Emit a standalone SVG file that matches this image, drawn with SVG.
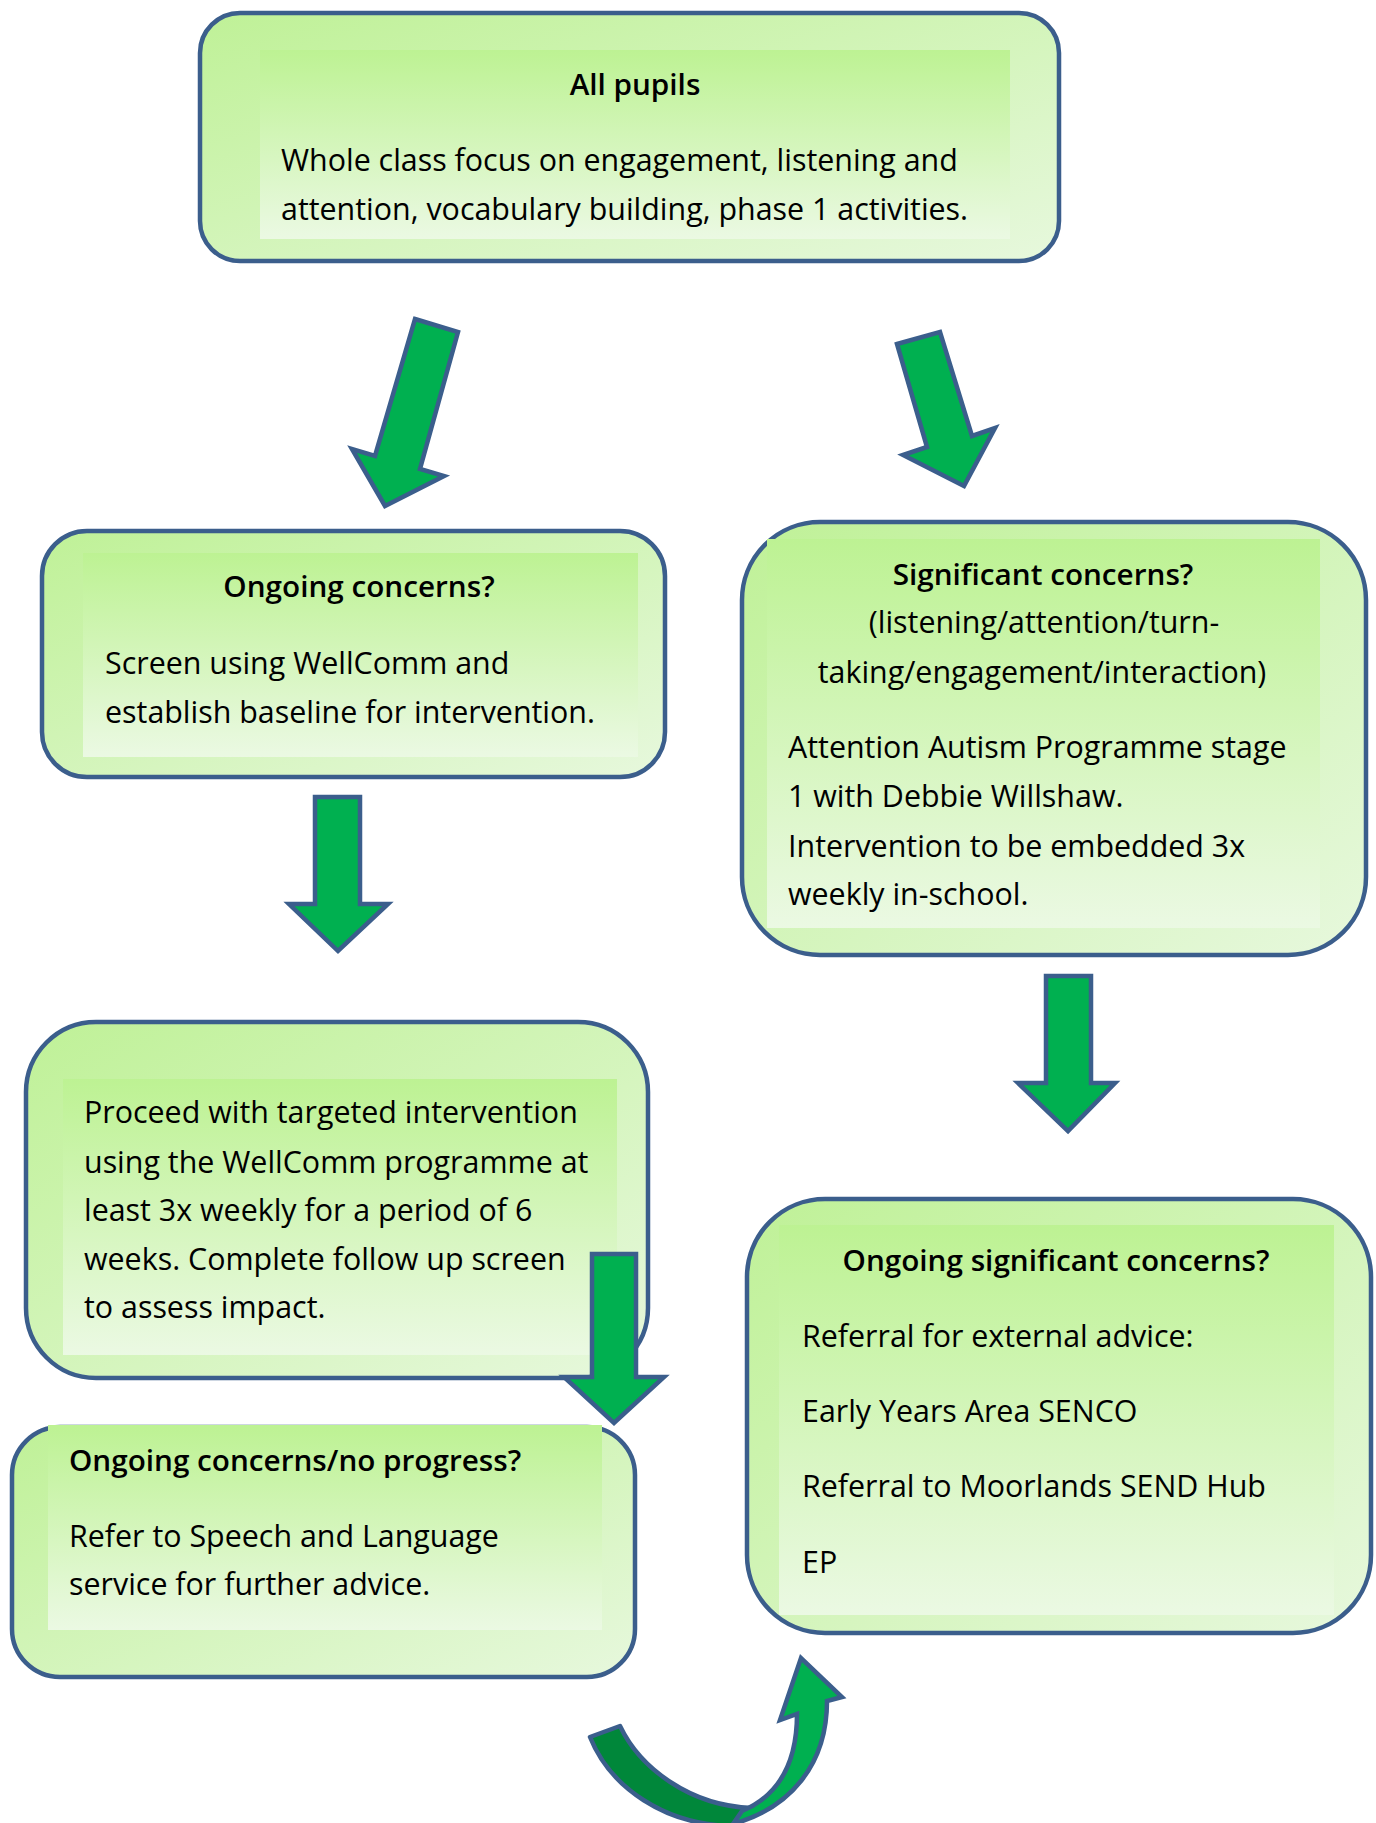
<svg xmlns="http://www.w3.org/2000/svg" width="1376" height="1823" viewBox="0 0 1376 1823">
<defs>
<linearGradient id="gOuter" x1="0" y1="0" x2="1" y2="1">
<stop offset="0" stop-color="#bff197"/>
<stop offset="1" stop-color="#e7f8dd"/>
</linearGradient>
<linearGradient id="gInner" x1="0" y1="0" x2="0" y2="1">
<stop offset="0" stop-color="#bdf293"/>
<stop offset="1" stop-color="#ebf9e3"/>
</linearGradient>
</defs>
<style>
.box{fill:url(#gOuter);stroke:#3b5e8c;stroke-width:4.5}
.inner{fill:url(#gInner)}
.arrow{fill:#00b050;stroke:#3b5e8c;stroke-width:4.5;stroke-linejoin:miter}
.arrowDark{fill:#00873a;stroke:#3b5e8c;stroke-width:4.5;stroke-linejoin:round}
.t{font-family:"Open Sans","Noto Sans","Liberation Sans",sans-serif;font-size:30.4px;fill:#000}
.h{font-family:"Open Sans","Noto Sans","Liberation Sans",sans-serif;font-size:29.7px;font-weight:600;fill:#000}
.c{text-anchor:middle}
</style>
<rect width="1376" height="1823" fill="#fff"/>

<g id="node-all-pupils">
<rect class="box" x="200" y="13" width="859" height="248" rx="40"/>
<rect class="inner" x="260" y="50" width="750" height="189"/>
<text class="h c" x="635" y="95">All pupils</text>
<text class="t" x="281" y="171">Whole class focus on engagement, listening and</text>
<text class="t" x="281" y="220">attention, vocabulary building, phase 1 activities.</text>
</g>

<g id="node-ongoing-concerns">
<rect class="box" x="42" y="531" width="623" height="246" rx="45"/>
<rect class="inner" x="83" y="553" width="555" height="204"/>
<text class="h c" x="359" y="597">Ongoing concerns?</text>
<text class="t" x="105" y="674">Screen using WellComm and</text>
<text class="t" x="105" y="723">establish baseline for intervention.</text>
</g>

<g id="node-significant-concerns">
<rect class="box" x="742" y="522" width="624" height="433" rx="78"/>
<rect class="inner" x="767" y="539" width="553" height="389"/>
<text class="h c" x="1043" y="585">Significant concerns?</text>
<text class="t c" x="1044" y="633">(listening/attention/turn-</text>
<text class="t c" x="1042" y="683">taking/engagement/interaction)</text>
<text class="t" x="788" y="758">Attention Autism Programme stage</text>
<text class="t" x="788" y="807">1 with Debbie Willshaw.</text>
<text class="t" x="788" y="857">Intervention to be embedded 3x</text>
<text class="t" x="788" y="905">weekly in-school.</text>
</g>

<g id="node-targeted-intervention">
<rect class="box" x="26" y="1022" width="622" height="356" rx="70"/>
<rect class="inner" x="63" y="1079" width="554" height="276"/>
<text class="t" x="84" y="1123">Proceed with targeted intervention</text>
<text class="t" x="84" y="1173">using the WellComm programme at</text>
<text class="t" x="84" y="1221">least 3x weekly for a period of 6</text>
<text class="t" x="84" y="1270">weeks. Complete follow up screen</text>
<text class="t" x="84" y="1318">to assess impact.</text>
</g>

<g id="node-no-progress">
<rect class="box" x="12" y="1427" width="623" height="250" rx="48"/>
<rect class="inner" x="48" y="1425" width="554" height="205"/>
<text class="h" x="69" y="1471">Ongoing concerns/no progress?</text>
<text class="t" x="69" y="1547">Refer to Speech and Language</text>
<text class="t" x="69" y="1595">service for further advice.</text>
</g>

<g id="node-ongoing-significant">
<rect class="box" x="747" y="1199" width="624" height="434" rx="78"/>
<rect class="inner" x="779" y="1225" width="555" height="390"/>
<text class="h c" x="1056" y="1271">Ongoing significant concerns?</text>
<text class="t" x="802" y="1347">Referral for external advice:</text>
<text class="t" x="802" y="1422">Early Years Area SENCO</text>
<text class="t" x="802" y="1497">Referral to Moorlands SEND Hub</text>
<text class="t" x="802" y="1573">EP</text>
</g>

<g id="connectors">
<polygon class="arrow" points="415,319 458,332 420,469 444,476 385,506 352,449 375,456"/>
<polygon class="arrow" points="897,344 940,332 972,436 995,428 964,486 903,455 927,447"/>
<polygon class="arrow" points="315,797 360,797 360,904 388,904 338,951 289,904 315,904"/>
<polygon class="arrow" points="1046,976 1091,976 1091,1083 1115,1083 1068,1131 1018,1083 1046,1083"/>
<polygon class="arrow" points="592,1254 636,1254 636,1377 664,1377 614,1423 564,1377 592,1377"/>
<path class="arrowDark" d="M590,1737 L620,1726 C640,1768 690,1806 752,1808 L735,1826 C665,1826 610,1787 590,1737 Z"/>
<path class="arrow" d="M733,1824 C790,1808 827,1765 827,1701 L842,1697 L801,1658 L780,1720 L797,1714 C797,1762 780,1795 742,1811 Z"/>
</g>
</svg>
